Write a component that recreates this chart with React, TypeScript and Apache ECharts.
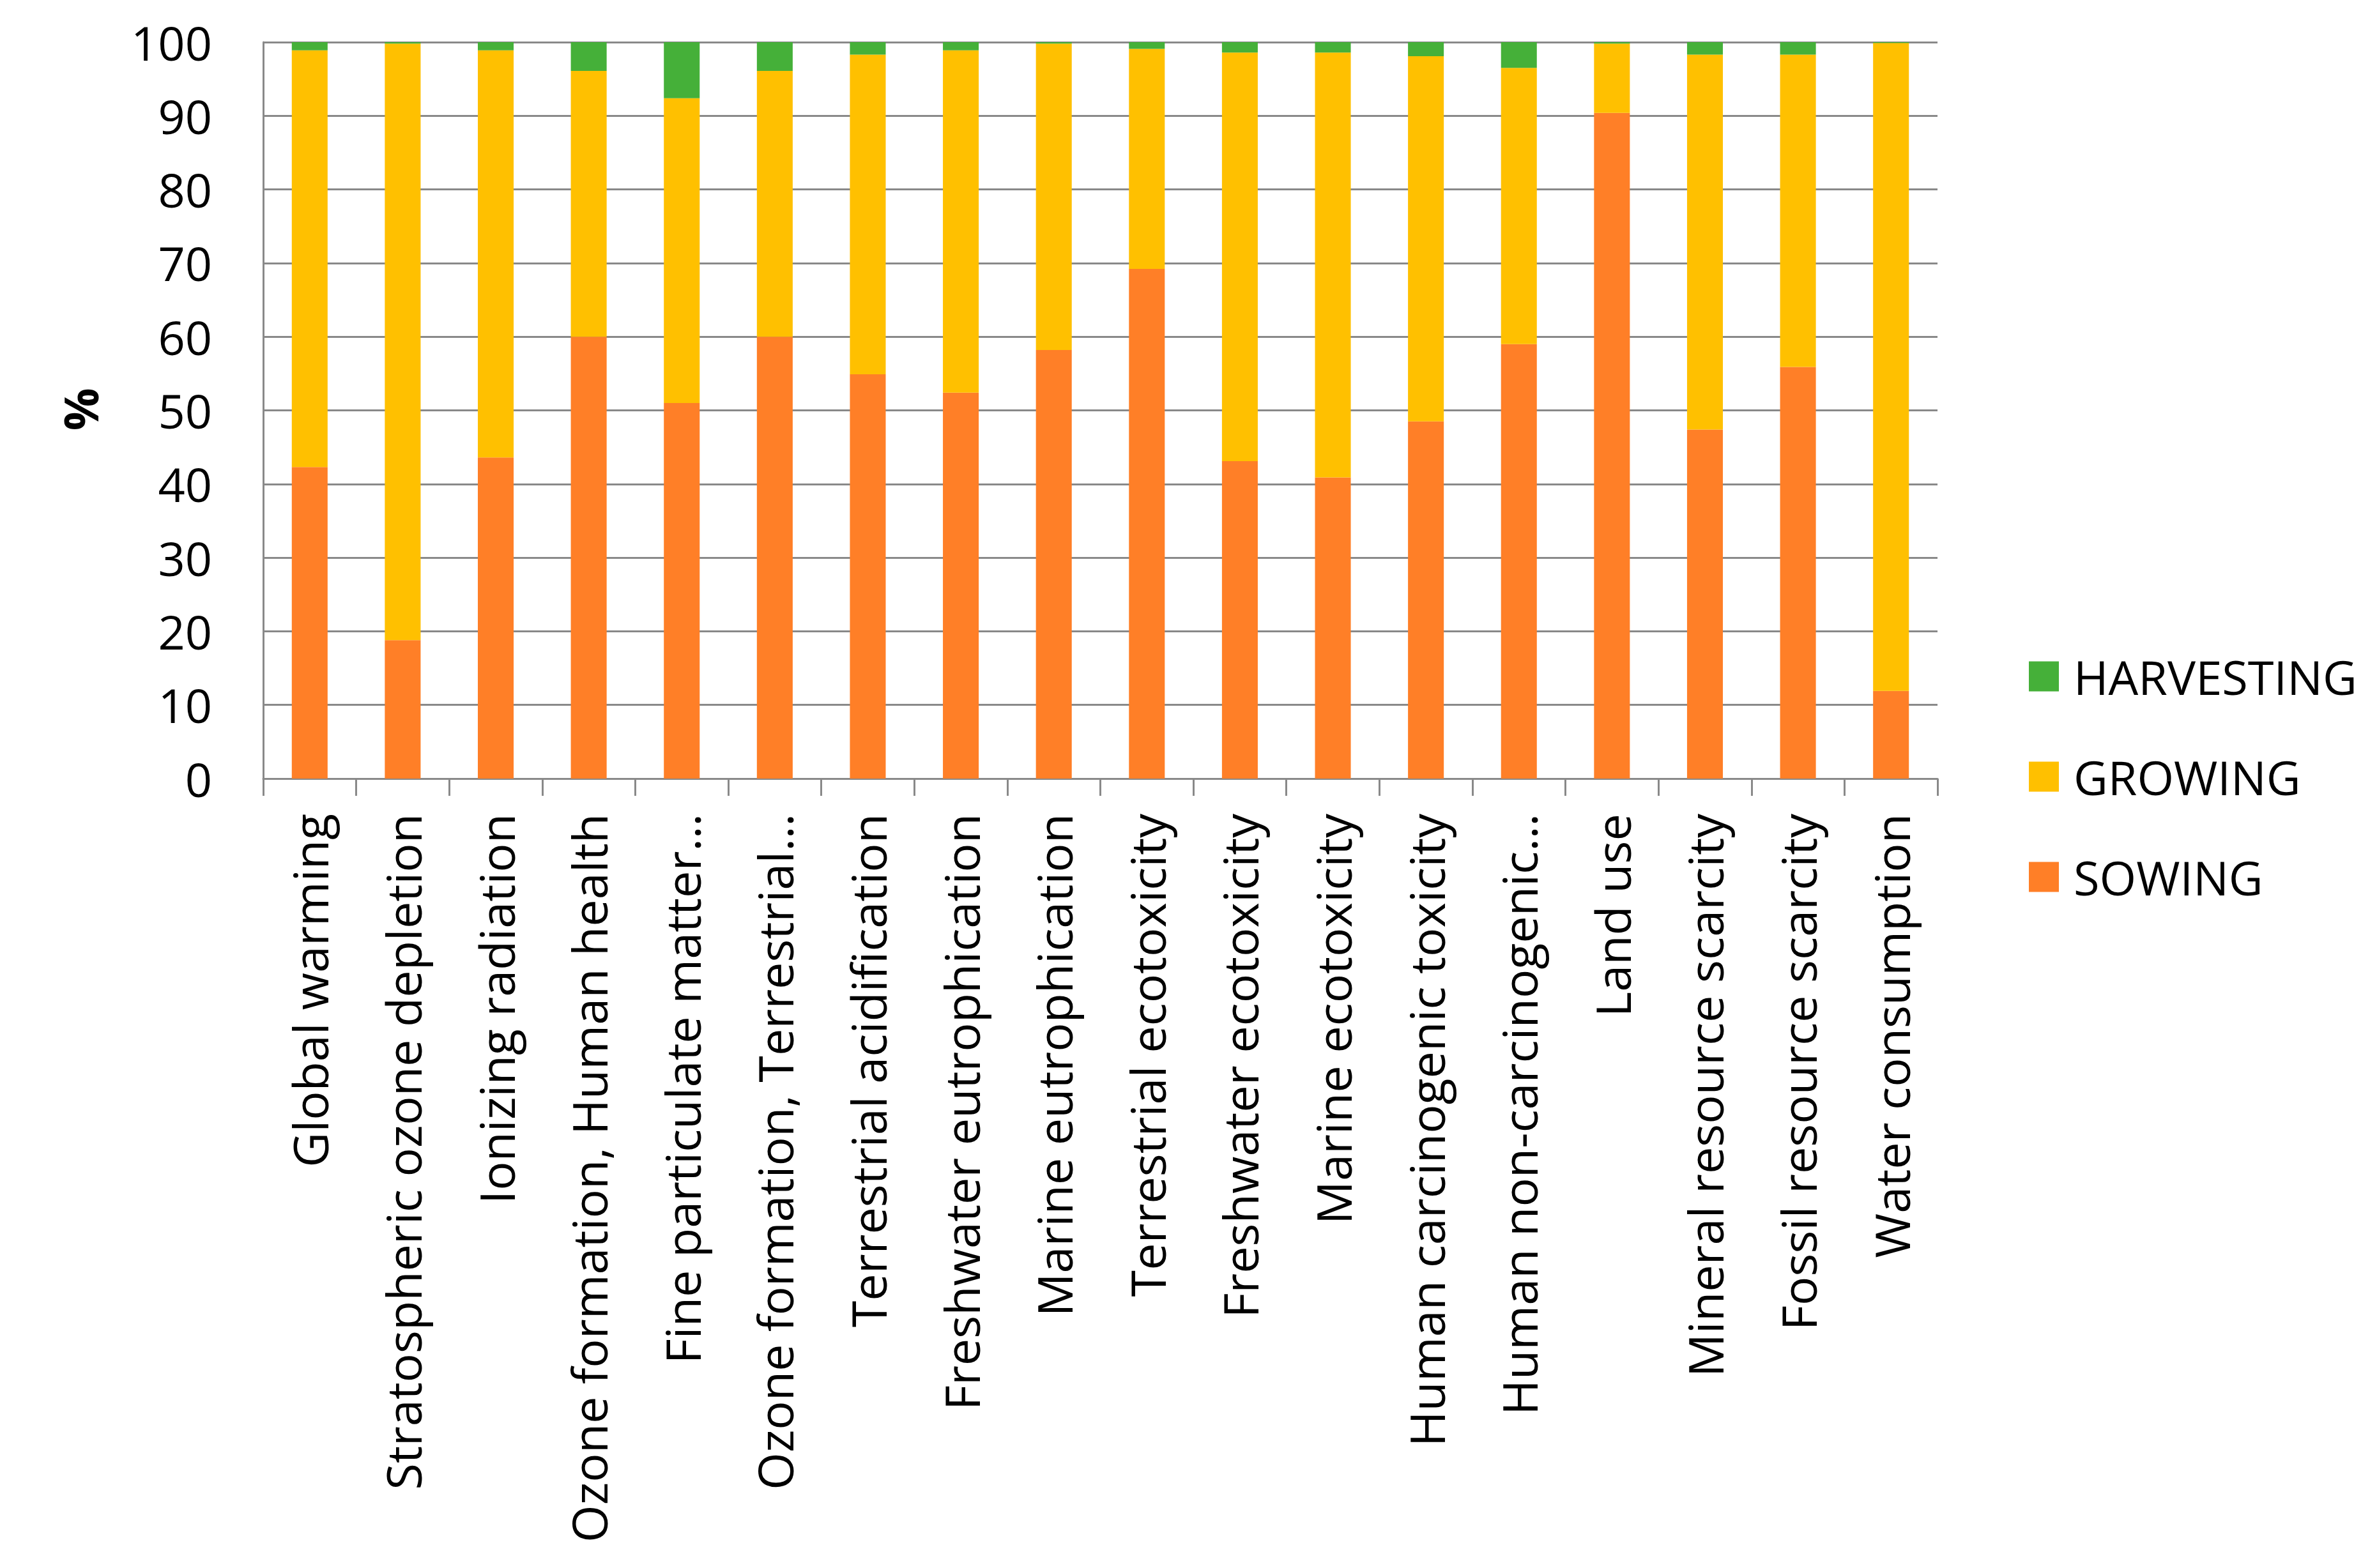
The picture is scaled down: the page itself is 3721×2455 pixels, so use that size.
import React, { useEffect, useRef } from "react";
import * as echarts from "echarts";

const categories = [
  "Global warming",
  "Stratospheric ozone depletion",
  "Ionizing radiation",
  "Ozone formation, Human health",
  "Fine particulate matter…",
  "Ozone formation, Terrestrial…",
  "Terrestrial acidification",
  "Freshwater eutrophication",
  "Marine eutrophication",
  "Terrestrial ecotoxicity",
  "Freshwater ecotoxicity",
  "Marine ecotoxicity",
  "Human carcinogenic toxicity",
  "Human non-carcinogenic…",
  "Land use",
  "Mineral resource scarcity",
  "Fossil resource scarcity",
  "Water consumption",
];

const sowing = [42.3, 18.8, 43.6, 60.0, 51.0, 60.0, 54.9, 52.4, 58.2, 69.2, 43.1, 40.9, 48.5, 59.0, 90.4, 47.4, 55.9, 11.9];
const growing = [56.6, 81.0, 55.3, 36.1, 41.4, 36.1, 43.4, 46.5, 41.6, 29.9, 55.5, 57.7, 49.6, 37.5, 9.4, 50.9, 42.4, 88.0];
const harvesting = [1.1, 0.2, 1.1, 3.9, 7.6, 3.9, 1.7, 1.1, 0.2, 0.9, 1.4, 1.4, 1.9, 3.5, 0.2, 1.7, 1.7, 0.1];

const seriesNames = ["SOWING", "GROWING", "HARVESTING"];
const legendOrder = ["HARVESTING", "GROWING", "SOWING"];
const yTicks = { min: 0, max: 100, interval: 10 };
const yTitle = "%";

const COLORS = { SOWING: "#FF7F27", GROWING: "#FFC000", HARVESTING: "#45B039" };
const FONT = "'Open Sans', 'DejaVu Sans', sans-serif";
const GRAY = "#898989";

export default function App() {
  const ref = useRef<HTMLDivElement>(null);

  useEffect(() => {
    document.body.style.margin = "0";
    if (!ref.current) return;
    const chart = echarts.init(ref.current, undefined, { renderer: "svg" });
    const values = [sowing, growing, harvesting];
    const option: any = {
      animation: false,
      backgroundColor: "#ffffff",
      grid: { left: 412, right: 688, top: 66, bottom: 1236, containLabel: false },
      legend: {
        orient: "vertical",
        left: 3171,
        top: 1017,
        itemWidth: 47,
        itemHeight: 47,
        itemGap: 83,
        icon: "rect",
        data: legendOrder,
        textStyle: {
          fontSize: 74,
          fontFamily: FONT,
          color: "#000",
          lineHeight: 74,
          padding: [0, 0, 0, 18],
        },
      },
      xAxis: {
        type: "category",
        data: categories,
        axisLine: { lineStyle: { color: GRAY, width: 3 } },
        axisTick: { show: true, alignWithLabel: false, length: 27, lineStyle: { color: GRAY, width: 3 } },
        axisLabel: {
          rotate: 90,
          interval: 0,
          margin: 55,
          fontSize: 75.5,
          fontFamily: FONT,
          color: "#000",
        },
      },
      yAxis: {
        type: "value",
        min: yTicks.min,
        max: yTicks.max,
        interval: yTicks.interval,
        axisLine: { show: true, lineStyle: { color: GRAY, width: 3 } },
        axisTick: { show: false },
        splitLine: { show: true, lineStyle: { color: GRAY, width: 3 } },
        axisLabel: { fontSize: 74, margin: 80, fontFamily: FONT, color: "#000" },
      },
      graphic: [
        {
          type: "text",
          x: 125,
          y: 641,
          rotation: Math.PI / 2,
          style: {
            text: yTitle,
            fill: "#000",
            font: `bold 74px ${FONT}`,
            align: "center",
            verticalAlign: "middle",
          },
        },
      ],
      series: seriesNames.map((name, i) => ({
        name,
        type: "bar",
        stack: "total",
        barWidth: "38.5%",
        itemStyle: { color: (COLORS as any)[name] },
        data: values[i],
      })),
    };
    chart.setOption(option);
    return () => chart.dispose();
  }, []);

  return (
    <div
      ref={ref}
      style={{ position: "fixed", left: 0, top: 0, width: 3721, height: 2455, background: "#fff" }}
    />
  );
}
